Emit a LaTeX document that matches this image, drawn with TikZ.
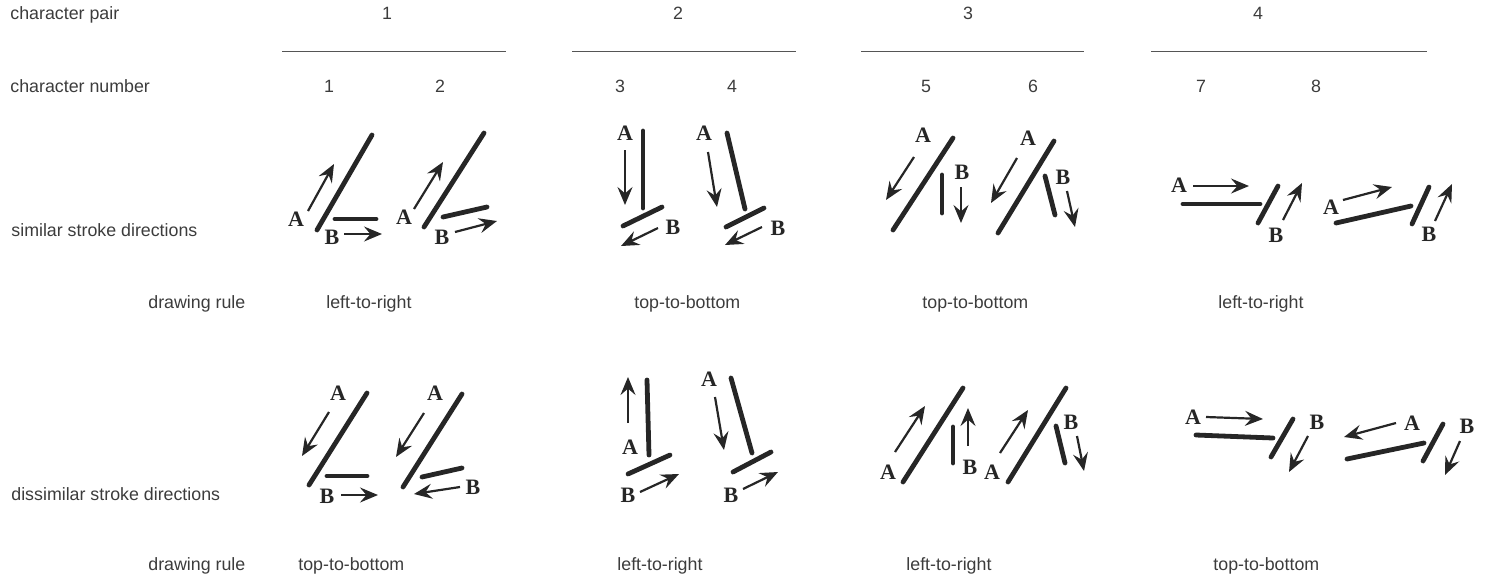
\documentclass[tikz,border=0pt]{standalone}
\usepackage{fontspec}
\setmainfont{Liberation Sans}
\newfontfamily\glyphfont{Liberation Serif}
\usetikzlibrary{arrows.meta}
\definecolor{ink}{HTML}{262626}
\definecolor{txtc}{HTML}{3C3C3C}
\definecolor{rulec}{HTML}{555555}
\tikzset{
  stroke/.style={line width=2.4pt, line cap=round, draw=ink},
  arr/.style={line width=1.1pt, draw=ink, -{Stealth[length=9pt,width=7.5pt,inset=3.2pt]}},
  lab/.style={font=\glyphfont\bfseries\fontsize{11}{12}\selectfont, text=ink, inner sep=0pt},
  txt/.style={font=\fontsize{8.9}{10}\selectfont, text=txtc, inner sep=0pt, anchor=base west},
  num/.style={font=\fontsize{8.9}{10}\selectfont, text=txtc, inner sep=0pt, anchor=base},
  sep/.style={line width=0.5pt, draw=rulec},
}
\begin{document}
\begin{tikzpicture}[x=0.5pt,y=-0.5pt]
\useasboundingbox (0,0) rectangle (1485,575);
% header
\node[txt] (hpair) at (10,19) {character pair};
\node[num] (p1) at (387,19) {1};
\node[num] (p2) at (678,19) {2};
\node[num] (p3) at (968,19) {3};
\node[num] (p4) at (1258,19) {4};
\coordinate (l1a) at (282,51); \coordinate (l1b) at (506,51);
\coordinate (l2a) at (572,51); \coordinate (l2b) at (796,51);
\coordinate (l3a) at (861,51); \coordinate (l3b) at (1084,51);
\coordinate (l4a) at (1151,51); \coordinate (l4b) at (1427,51);
\draw[sep] (l1a) -- (l1b);
\draw[sep] (l2a) -- (l2b);
\draw[sep] (l3a) -- (l3b);
\draw[sep] (l4a) -- (l4b);
\node[txt] (hnum) at (10,92) {character number};
\node[num] (c1) at (329,92) {1};
\node[num] (c2) at (440,92) {2};
\node[num] (c3) at (620,92) {3};
\node[num] (c4) at (732,92) {4};
\node[num] (c5) at (926,92) {5};
\node[num] (c6) at (1033,92) {6};
\node[num] (c7) at (1201,92) {7};
\node[num] (c8) at (1316,92) {8};
% row labels
\node[txt] (rsim) at (11,236) {similar stroke directions};
\node[txt] (rdr1) at (148,308) {drawing rule};
\node[txt] (s1) at (326,308) {left-to-right};
\node[txt] (s2) at (634,308) {top-to-bottom};
\node[txt] (s3) at (922,308) {top-to-bottom};
\node[txt] (s4) at (1218,308) {left-to-right};
\node[txt] (rdis) at (11,500) {dissimilar stroke directions};
\node[txt] (rdr2) at (148,570) {drawing rule};
\node[txt] (d1) at (298,570) {top-to-bottom};
\node[txt] (d2) at (617,570) {left-to-right};
\node[txt] (d3) at (906,570) {left-to-right};
\node[txt] (d4) at (1213,570) {top-to-bottom};
% ===== similar row =====
% char 1
\draw[stroke] (317,230) -- (372,135);
\draw[arr] (308,211) -- (334,164);
\node[lab] (t1A) at (296,219) {A};
\draw[stroke] (335,219) -- (376,219);
\node[lab] (t1B) at (332,237) {B};
\draw[arr] (344,234) -- (382,234);
% char 2
\draw[stroke] (424,227) -- (484,133);
\draw[arr] (414,209) -- (443,162);
\node[lab] (t2A) at (404,217) {A};
\draw[stroke] (443,217) -- (487,207);
\node[lab] (t2B) at (442,237) {B};
\draw[arr] (455,232) -- (497,221);
% char 3
\node[lab] (t3A) at (625,133) {A};
\draw[arr] (625,150) -- (625,205);
\draw[stroke] (643,131) -- (643,208);
\draw[stroke] (623,226) -- (662,207);
\node[lab] (t3B) at (673,227) {B};
\draw[arr] (658,228) -- (621,246);
% char 4
\node[lab] (t4A) at (704,133) {A};
\draw[arr] (708,152) -- (717,207);
\draw[stroke] (727,133) -- (745,209);
\draw[stroke] (726,227) -- (764,208);
\node[lab] (t4B) at (778,228) {B};
\draw[arr] (762,227) -- (725,245);
% char 5
\node[lab] (t5A) at (923,135) {A};
\draw[stroke] (893,230) -- (953,138);
\draw[arr] (914,157) -- (886,200);
\draw[stroke] (942,175) -- (942,213);
\node[lab] (t5B) at (962,172) {B};
\draw[arr] (961,187) -- (961,223);
% char 6
\node[lab] (t6A) at (1028,138) {A};
\draw[stroke] (998,233) -- (1054,141);
\draw[arr] (1017,158) -- (991,203);
\draw[stroke] (1045,176) -- (1055,215);
\node[lab] (t6B) at (1063,177) {B};
\draw[arr] (1067,191) -- (1075,227);
% char 7
\node[lab] (t7A) at (1179,185) {A};
\draw[arr] (1193,186) -- (1249,186);
\draw[stroke] (1183,204) -- (1260,204);
\draw[stroke] (1258,223) -- (1278,186);
\draw[arr] (1283,220) -- (1302,183);
\node[lab] (t7B) at (1276,235) {B};
% char 8
\node[lab] (t8A) at (1331,207) {A};
\draw[arr] (1343,200) -- (1392,187);
\draw[stroke] (1336,223) -- (1411,206);
\draw[stroke] (1412,224) -- (1429,187);
\draw[arr] (1435,221) -- (1452,184);
\node[lab] (t8B) at (1429,234) {B};
% ===== dissimilar row =====
% char 1
\node[lab] (b1A) at (338,393) {A};
\draw[stroke] (309,485) -- (367,393);
\draw[arr] (329,412) -- (302,456);
\draw[stroke] (327,476) -- (367,476);
\node[lab] (b1B) at (327,496) {B};
\draw[arr] (341,495) -- (378,495);
% char 2
\node[lab] (b2A) at (435,393) {A};
\draw[stroke] (403,487) -- (462,394);
\draw[arr] (424,413) -- (396,457);
\draw[stroke] (422,477) -- (462,468);
\node[lab] (b2B) at (473,487) {B};
\draw[arr] (460,487) -- (414,494);
% char 3
\draw[arr] (628,423) -- (628,377);
\draw[stroke] (647,380) -- (649,455);
\node[lab] (b3A) at (630,447) {A};
\draw[stroke] (628,474) -- (670,455);
\node[lab] (b3B) at (628,495) {B};
\draw[arr] (640,492) -- (679,474);
% char 4
\node[lab] (b4A) at (709,379) {A};
\draw[arr] (715,397) -- (724,450);
\draw[stroke] (731,378) -- (752,453);
\draw[stroke] (733,472) -- (771,452);
\node[lab] (b4B) at (731,495) {B};
\draw[arr] (743,489) -- (778,472);
% char 5
\node[lab] (b5A) at (888,472) {A};
\draw[stroke] (903,482) -- (963,388);
\draw[arr] (895,452) -- (925,406);
\draw[stroke] (953,427) -- (953,463);
\draw[arr] (968,446) -- (968,408);
\node[lab] (b5B) at (970,467) {B};
% char 6
\node[lab] (b6A) at (992,472) {A};
\draw[stroke] (1008,482) -- (1066,388);
\draw[arr] (1000,453) -- (1028,410);
\draw[stroke] (1056,426) -- (1065,463);
\node[lab] (b6B) at (1071,422) {B};
\draw[arr] (1077,436) -- (1084,471);
% char 7
\node[lab] (b7A) at (1193,417) {A};
\draw[arr] (1206,417) -- (1263,419);
\draw[stroke] (1196,435) -- (1273,438);
\draw[stroke] (1271,457) -- (1293,419);
\node[lab] (b7B) at (1317,422) {B};
\draw[arr] (1308,436) -- (1289,472);
% char 8
\node[lab] (b8A) at (1412,423) {A};
\draw[arr] (1396,423) -- (1344,437);
\draw[stroke] (1347,459) -- (1424,443);
\draw[stroke] (1423,461) -- (1443,424);
\node[lab] (b8B) at (1467,426) {B};
\draw[arr] (1460,441) -- (1445,475);
\end{tikzpicture}
\end{document}
